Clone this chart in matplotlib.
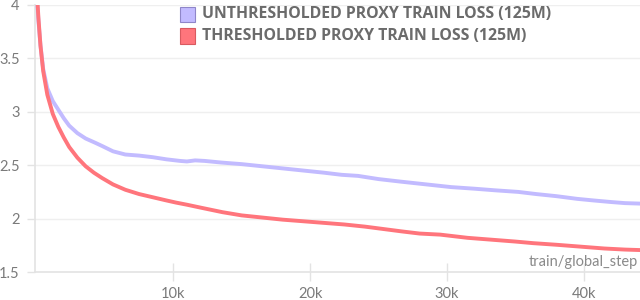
import matplotlib
matplotlib.use("Agg")
import matplotlib.pyplot as plt
from matplotlib.patches import Rectangle

# steps (k) and loss values
unth_steps = [0.0, 0.15, 0.3, 0.5, 0.8, 1.2, 1.6, 2.0, 2.4, 3.0, 3.6, 4.3, 4.8, 5.6, 6.5, 7.5, 8.5, 9.5, 10.5,
              11.0, 11.6, 12.3, 13.5, 15.0, 16.5, 18.0, 19.5, 21.0, 22.3, 23.5, 25.0, 26.7, 28.5, 30.3,
              32.0, 33.5, 35.2, 36.5, 38.0, 39.5, 40.7, 42.0, 43.0, 44.2]
unth_vals = [4.15, 3.85, 3.62, 3.40, 3.22, 3.10, 3.02, 2.94, 2.87, 2.80, 2.75, 2.71, 2.68, 2.63, 2.60, 2.59,
             2.575, 2.555, 2.54, 2.535, 2.545, 2.54, 2.525, 2.51, 2.49, 2.47, 2.45, 2.43, 2.41, 2.40, 2.37,
             2.345, 2.32, 2.295, 2.28, 2.265, 2.25, 2.23, 2.21, 2.185, 2.17, 2.155, 2.145, 2.14]

thr_steps = [0.0, 0.15, 0.3, 0.5, 0.8, 1.2, 1.6, 2.0, 2.4, 3.0, 3.6, 4.2, 4.8, 5.6, 6.5, 7.5, 8.5, 9.5, 10.2,
             11.0, 12.1, 13.6, 15.0, 16.5, 18.0, 19.5, 21.0, 22.5, 24.0, 25.5, 26.7, 28.0, 29.5, 31.5,
             33.5, 35.0, 36.3, 38.0, 40.0, 41.5, 43.0, 44.2]
thr_vals = [4.20, 3.88, 3.62, 3.38, 3.16, 2.98, 2.86, 2.76, 2.67, 2.57, 2.49, 2.43, 2.38, 2.32, 2.27, 2.23,
            2.20, 2.17, 2.15, 2.13, 2.10, 2.06, 2.03, 2.01, 1.99, 1.975, 1.96, 1.945, 1.925, 1.90, 1.88,
            1.86, 1.85, 1.82, 1.80, 1.785, 1.77, 1.755, 1.735, 1.72, 1.71, 1.705]

labels = ["UNTHRESHOLDED PROXY TRAIN LOSS (125M)", "THRESHOLDED PROXY TRAIN LOSS (125M)"]
colors = ["#c2bbff", "#ff757c"]
edge_colors = ["#8f86c9", "#d95a60"]
x_ticks = [10, 20, 30, 40]
x_ticklabels = ["10k", "20k", "30k", "40k"]
y_ticks = [1.5, 2, 2.5, 3, 3.5, 4]
y_ticklabels = ["1.5", "2", "2.5", "3", "3.5", "4"]
x_label = "train/global_step"

W, H = 640, 300
fig = plt.figure(figsize=(6.4, 3.0), dpi=100)
ax = fig.add_axes([35 / W, (H - 272) / H, (W - 35) / W, (272 - 5) / H])

ax.plot(unth_steps, unth_vals, color=colors[0], lw=2.8, solid_capstyle="round", zorder=3)
ax.plot(thr_steps, thr_vals, color=colors[1], lw=2.8, solid_capstyle="round", zorder=3)

ax.set_xlim(-0.1, 44.1)
ax.set_ylim(1.5, 4.0)

ax.set_yticks(y_ticks)
ax.set_yticklabels(y_ticklabels)
ax.set_xticks(x_ticks)
ax.set_xticklabels(x_ticklabels)

for lab in ax.get_yticklabels() + ax.get_xticklabels():
    lab.set_fontfamily(["Lato", "DejaVu Sans"])
    lab.set_fontsize(10.5)
    lab.set_color("#7a7a7a")

ax.tick_params(axis="y", length=6, width=1, color="#e3e3e3", pad=5, direction="out")
ax.tick_params(axis="x", length=13, width=1, color="#e3e3e3", pad=4, direction="inout")

for yv in y_ticks[1:]:
    ax.axhline(yv, color="#efefef", lw=1, zorder=1)

for s in ["top", "right"]:
    ax.spines[s].set_visible(False)
for s in ["left", "bottom"]:
    ax.spines[s].set_color("#e3e3e3")
    ax.spines[s].set_linewidth(1.2)

fig.text(638 / W, (H - 262) / H, x_label, ha="right", va="center",
         color="#8a8a8a", fontsize=10.5, family=["Lato", "DejaVu Sans"])

# legend
rows_y = [14.5, 36]
for i in range(2):
    fig.patches.append(Rectangle((180 / W, (H - rows_y[i] - 7.5) / H), 15 / W, 15 / H,
                                 transform=fig.transFigure, facecolor=colors[i],
                                 edgecolor=edge_colors[i], lw=0.8))
    fig.text(202 / W, (H - rows_y[i]) / H, labels[i], ha="left", va="center",
             fontsize=11.4, fontweight="bold", color="#6b6b6b",
             family=["Open Sans", "DejaVu Sans"])

fig.savefig("out.png", dpi=100)
